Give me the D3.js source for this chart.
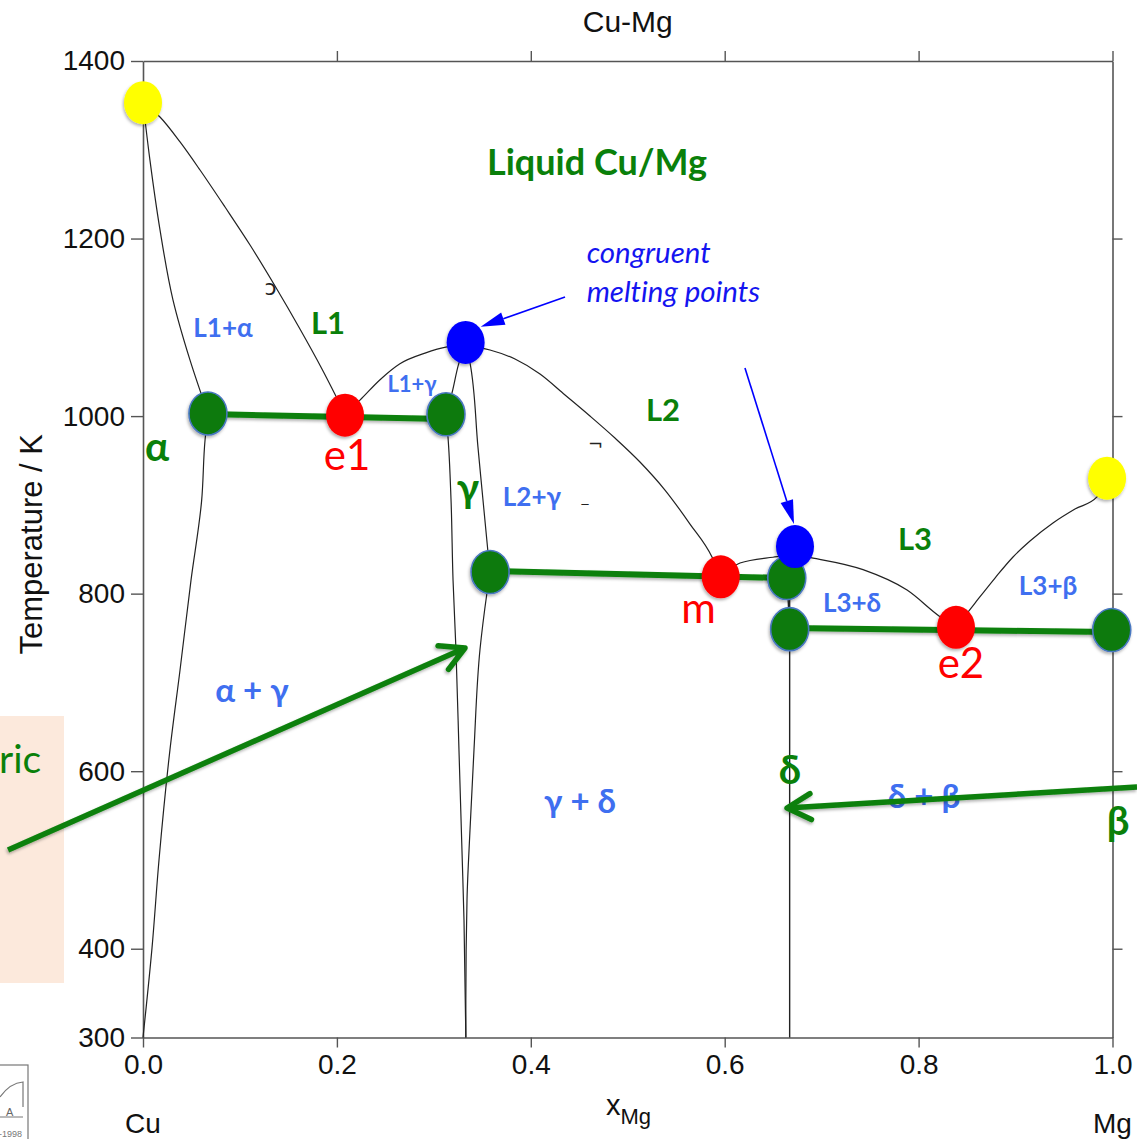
<!DOCTYPE html>
<html>
<head>
<meta charset="utf-8">
<script src="https://cdn.jsdelivr.net/npm/d3@7"></script>
<style>
  body { margin: 0; background: #fff; }
  svg { display: block; }
</style>
</head>
<body>
<svg id="chart" width="1137" height="1139"></svg>
<script>
// ---------- Cu–Mg phase diagram data (x = mole fraction Mg, T in K) ----------
const xTicks = [0, 0.2, 0.4, 0.6, 0.8, 1.0];
const xTickLabels = ["0.0", "0.2", "0.4", "0.6", "0.8", "1.0"];
const yTicks = [300, 400, 600, 800, 1000, 1200, 1400];
const yTickLabels = ["300", "400", "600", "800", "1000", "1200", "1400"];
const topTicks = [0.2, 0.4, 0.6, 0.8, 1.0];
const rightTicks = [400, 600, 800, 1000, 1200];

// phase boundaries (x-monotone liquidus branches)
const liquidusCu = [[0,1353],[0.0175,1336.9],[0.0382,1308.8],[0.0588,1277.2],[0.0846,1235.5],[0.1104,1192.7],[0.1362,1146.5],[0.1619,1098.1],[0.1846,1053.1],[0.2084,1002]];
const liquidusGammaLeft = [[0.2084,1002],[0.2238,1018],[0.2445,1041],[0.265,1059],[0.2909,1071],[0.3136,1078],[0.3321,1080]];
const liquidusGammaRight = [[0.3321,1080],[0.3579,1074.4],[0.3837,1064.3],[0.4095,1047.4],[0.4353,1023.8],[0.461,1000.1],[0.4868,975.3],[0.5126,948.3],[0.5384,916.7],[0.5642,878.4],[0.5869,841.3],[0.5959,819]];
const liquidusDelta = [[0.5959,819],[0.6158,834.5],[0.6498,841],[0.6725,843.5],[0.6911,840],[0.7427,827],[0.7881,804],[0.8221,774],[0.8386,762]];
const liquidusMg = [[0.8386,762],[0.8582,789.4],[0.8788,817.6],[0.8974,841.3],[0.9149,859.3],[0.9386,879.6],[0.9613,895.3],[0.984,908.9],[0.9944,930]];
// phase boundaries (T-monotone solidus / solvus branches)
const solidusAlpha = [[0,1353],[0.0072,1288],[0.0175,1210],[0.0309,1131],[0.0485,1063],[0.067,1003]];
const solvusAlpha = [[0.067,1003],[0.064,973],[0.0605,905],[0.0495,815],[0.0382,714],[0.0278,624],[0.0165,500],[0.0093,401],[0,300]];
const gammaLeftBoundary = [[0.3321,1080],[0.3259,1060],[0.3187,1026],[0.3125,1002],[0.3146,976],[0.3177,906],[0.3198,815],[0.3228,737],[0.3259,624],[0.329,511],[0.3311,432],[0.333,300]];
const gammaRightBoundary = [[0.3321,1080],[0.3373,1060],[0.3455,965],[0.3559,846],[0.3579,824],[0.3548,801],[0.3476,737],[0.3414,624],[0.3373,534],[0.3342,455],[0.333,342],[0.333,300]];
const deltaPhase = [[0.667,819],[0.667,300]];
const deltaSegment = [[0.6643,817.6],[0.667,760]];

// invariant tie lines
const tieLineE1 = [[0.067,1002.3],[0.3125,996.7]];
const tieLineM = [[0.358,825.5],[0.664,817.6]];
const tieLineE2 = [[0.667,761.3],[0.9985,756.8]];

// special points
const meltingPoints = [[0,1353],[0.9944,930]];
const congruentPoints = [[0.3328,1083],[0.6725,853]];
const invariantPoints = [[0.2084,1001],[0.5959,819],[0.8386,762]];
const phaseEndPoints = [[0.067,1003],[0.3125,1002],[0.358,824.4],[0.664,817.6],[0.667,760],[0.9992,759]];

// region and point labels: [text, x, T, kind]
const labels = [
  ["Liquid Cu/Mg", 0.4683, 1271.6, "big"],
  ["L1+α", 0.0825, 1089, "region"],
  ["L1", 0.1908, 1092.5, "liquid"],
  ["L1+γ", 0.2775, 1027.2, "small"],
  ["α", 0.0144, 949.4, "phase"],
  ["e1", 0.2104, 939.3, "point"],
  ["γ", 0.3352, 903, "phase"],
  ["L2+γ", 0.4012, 898.7, "region"],
  ["L2", 0.5364, 994.5, "liquid"],
  ["m", 0.573, 767, "point"],
  ["L3", 0.7963, 849.2, "liquid"],
  ["L3+δ", 0.7313, 779.3, "region"],
  ["L3+β", 0.9335, 798.5, "region"],
  ["e2", 0.8437, 705, "point"],
  ["α + γ", 0.1124, 677.9, "two"],
  ["γ + δ", 0.4508, 552.9, "two"],
  ["δ", 0.6674, 585.6, "phase"],
  ["δ + β", 0.8056, 558.5, "two"],
  ["β", 1.0057, 528, "phase"]
];
const noteLines = ["congruent", "melting points"];
const notePos = [[0.4576, 1172.5], [0.4576, 1128.5]];

// annotation arrows: [from, to]
const blueArrows = [[[0.4353,1134.2],[0.3483,1100.7]], [[0.6209,1054.2],[0.6715,878.4]]];
const greenArrows = [[[-0.1392,511.2],[0.3321,738.8]], [[1.0253,582.2],[0.6643,558.5]]];
const glyphs = [["ɔ", 0.1315, 1136, 22], ["¬", 0.4668, 962, 18], ["_", 0.4558, 903, 14]];

// ---------- drawing ----------
const svg = d3.select("#chart");
const W = 1137, H = 1139;
const x = d3.scaleLinear().domain([0, 1]).range([143, 1112.5]);
const y = d3.scaleLinear().domain([300, 1400]).range([1037.5, 61]);

const LABEL_FONT = "Lato, 'Open Sans', 'Noto Sans', sans-serif";
const AXIS_FONT = "'Liberation Sans', Arial, sans-serif";
const GREEN = "#0a800a", BLUE_TXT = "#3f6ff0", AXIS = "#555";

svg.append("rect").attr("width", W).attr("height", H).attr("fill", "#fff");

const defs = svg.append("defs");
const sh = defs.append("filter").attr("id", "shadow").attr("x", "-50%").attr("y", "-50%").attr("width", "200%").attr("height", "200%");
sh.append("feDropShadow").attr("dx", -1).attr("dy", 2).attr("stdDeviation", 1.6)
  .attr("flood-color", "#000").attr("flood-opacity", 0.3);

// side panel and text fragment
svg.append("rect").attr("x", 0).attr("y", 716).attr("width", 64).attr("height", 267).attr("fill", "#fce9dc");
svg.append("text").attr("x", -1).attr("y", 773).attr("font-family", LABEL_FONT)
  .attr("font-size", 39).attr("fill", GREEN).text("ric");

// axes
function styleAxis(g) {
  g.select(".domain").attr("stroke", AXIS).attr("stroke-width", 1.6);
  g.selectAll(".tick line").attr("stroke", AXIS).attr("stroke-width", 1.4);
  g.selectAll(".tick text").attr("fill", "#111").attr("font-family", AXIS_FONT).attr("font-size", 28);
}
svg.append("g").attr("transform", `translate(0,${y(300)})`)
  .call(d3.axisBottom(x).tickValues(xTicks).tickFormat((d, i) => xTickLabels[i]).tickSize(10).tickPadding(7).tickSizeOuter(0))
  .call(styleAxis);
svg.append("g").attr("transform", `translate(${x(0)},0)`)
  .call(d3.axisLeft(y).tickValues(yTicks).tickFormat((d, i) => yTickLabels[i]).tickSize(12).tickPadding(6).tickSizeOuter(0))
  .call(styleAxis);
svg.append("g").attr("transform", `translate(0,${y(1400)})`)
  .call(d3.axisTop(x).tickValues(topTicks).tickFormat("").tickSize(10).tickSizeOuter(0))
  .call(styleAxis);
svg.append("g").attr("transform", `translate(${x(1)},0)`)
  .call(d3.axisRight(y).tickValues(rightTicks).tickFormat("").tickSize(10).tickSizeOuter(0))
  .call(styleAxis);

// axis titles
svg.append("text").attr("x", (x(0) + x(1)) / 2).attr("y", 32).attr("text-anchor", "middle")
  .attr("font-family", AXIS_FONT).attr("font-size", 30).attr("fill", "#111").text("Cu-Mg");
svg.append("text").attr("transform", `translate(42,${(y(300) + y(1400)) / 2 - 5}) rotate(-90)`)
  .attr("text-anchor", "middle").attr("font-family", AXIS_FONT).attr("font-size", 31).attr("fill", "#111")
  .text("Temperature / K");
const xl = svg.append("text").attr("x", 606).attr("y", 1115).attr("font-family", AXIS_FONT).attr("fill", "#111");
xl.append("tspan").attr("font-size", 29).text("x");
xl.append("tspan").attr("font-size", 22).attr("dy", 9).text("Mg");
svg.append("text").attr("x", x(0)).attr("y", 1133).attr("text-anchor", "middle")
  .attr("font-family", AXIS_FONT).attr("font-size", 28).attr("fill", "#111").text("Cu");
svg.append("text").attr("x", x(1)).attr("y", 1133).attr("text-anchor", "middle")
  .attr("font-family", AXIS_FONT).attr("font-size", 28).attr("fill", "#111").text("Mg");

// phase boundary curves
const lineX = d3.line().x(d => x(d[0])).y(d => y(d[1])).curve(d3.curveMonotoneX);
const lineY = d3.line().x(d => x(d[0])).y(d => y(d[1])).curve(d3.curveMonotoneY);
const straight = d3.line().x(d => x(d[0])).y(d => y(d[1]));
const bg = svg.append("g").attr("fill", "none").attr("stroke", "#222").attr("stroke-width", 1.2);
bg.selectAll("path.lx").data([liquidusCu, liquidusGammaLeft, liquidusGammaRight, liquidusDelta, liquidusMg])
  .join("path").attr("class", "lx").attr("d", lineX);
bg.selectAll("path.ly").data([solidusAlpha, solvusAlpha, gammaLeftBoundary, gammaRightBoundary])
  .join("path").attr("class", "ly").attr("d", lineY);
bg.selectAll("path.ls").data([deltaPhase, deltaSegment, [tieLineM[0], invariantPoints[1]]])
  .join("path").attr("class", "ls").attr("d", straight).attr("stroke-width", 1.4);

// small stray glyphs
svg.append("g").selectAll("text").data(glyphs).join("text")
  .attr("x", d => x(d[1])).attr("y", d => y(d[2])).attr("text-anchor", "middle")
  .attr("font-family", "'DejaVu Sans', sans-serif").attr("font-size", d => d[3]).attr("fill", "#222").text(d => d[0]);

// invariant tie lines
svg.append("g").attr("filter", "url(#shadow)").selectAll("path").data([tieLineE1, tieLineM, tieLineE2]).join("path")
  .attr("d", straight).attr("fill", "none").attr("stroke", GREEN).attr("stroke-width", 6);

// labels
const labelStyle = {
  big:    { size: 36, weight: 700, fill: GREEN },
  region: { size: 26, weight: 700, fill: BLUE_TXT },
  small:  { size: 22, weight: 700, fill: BLUE_TXT },
  liquid: { size: 31, weight: 700, fill: GREEN },
  phase:  { size: 40, weight: 700, fill: GREEN },
  point:  { size: 42, weight: 400, fill: "#ff0000" },
  two:    { size: 33, weight: 700, fill: BLUE_TXT }
};
svg.append("g").selectAll("text").data(labels).join("text")
  .attr("x", d => x(d[1])).attr("y", d => y(d[2])).attr("text-anchor", "middle")
  .attr("font-family", LABEL_FONT)
  .attr("font-size", d => labelStyle[d[3]].size)
  .attr("font-weight", d => labelStyle[d[3]].weight)
  .attr("fill", d => labelStyle[d[3]].fill)
  .text(d => d[0]);

svg.append("g").selectAll("text").data(noteLines).join("text")
  .attr("x", (d, i) => x(notePos[i][0])).attr("y", (d, i) => y(notePos[i][1]))
  .attr("font-family", LABEL_FONT).attr("font-style", "italic").attr("font-size", 29.5)
  .style("font-variant-ligatures", "none")
  .attr("fill", "#1414f0").text(d => d);

// points
const pts = svg.append("g").attr("filter", "url(#shadow)");
function dots(data, fill, stroke) {
  pts.append("g").selectAll("ellipse").data(data).join("ellipse")
    .attr("cx", d => x(d[0])).attr("cy", d => y(d[1])).attr("rx", 19).attr("ry", 21.5)
    .attr("fill", fill).attr("stroke", stroke || "none").attr("stroke-width", stroke ? 1.6 : 0);
}
dots(phaseEndPoints, "#087a08", "#4a78c0");
dots(invariantPoints, "#ff0000");
dots(congruentPoints, "#0000ff");
dots(meltingPoints, "#ffff00");

// green annotation arrows with open heads
const ga = svg.append("g").attr("filter", "url(#shadow)");
greenArrows.forEach(([a, b]) => {
  const x1 = x(a[0]), y1 = y(a[1]), x2 = x(b[0]), y2 = y(b[1]);
  const ang = Math.atan2(y1 - y2, x1 - x2);
  const L = 27, spread = 0.5;
  ga.append("line").attr("x1", x1).attr("y1", y1).attr("x2", x2).attr("y2", y2)
    .attr("stroke", GREEN).attr("stroke-width", 5.5);
  ga.append("path")
    .attr("d", `M${x2 + L * Math.cos(ang + spread)},${y2 + L * Math.sin(ang + spread)}L${x2},${y2}L${x2 + L * Math.cos(ang - spread)},${y2 + L * Math.sin(ang - spread)}`)
    .attr("fill", "none").attr("stroke", GREEN).attr("stroke-width", 5.5).attr("stroke-linecap", "round").attr("stroke-linejoin", "round");
});

// blue annotation arrows with filled heads
const ba = svg.append("g");
blueArrows.forEach(([a, b]) => {
  const x1 = x(a[0]), y1 = y(a[1]), x2 = x(b[0]), y2 = y(b[1]);
  const ang = Math.atan2(y1 - y2, x1 - x2);
  const L = 24, hw = 6.5;
  const bx = x2 + L * Math.cos(ang), by = y2 + L * Math.sin(ang);
  ba.append("line").attr("x1", x1).attr("y1", y1).attr("x2", bx).attr("y2", by)
    .attr("stroke", "#0000ff").attr("stroke-width", 1.6);
  ba.append("path")
    .attr("d", `M${x2},${y2}L${bx - hw * Math.sin(ang)},${by + hw * Math.cos(ang)}L${bx + hw * Math.sin(ang)},${by - hw * Math.cos(ang)}Z`)
    .attr("fill", "#0000ff");
});

// small software badge in the corner
const logo = svg.append("g").attr("stroke", "#777").attr("fill", "none");
logo.append("rect").attr("x", -2).attr("y", 1065).attr("width", 30).attr("height", 80).attr("stroke-width", 1.2);
logo.append("path").attr("d", "M0,1097 Q10,1083 23,1082 L23,1107").attr("stroke-width", 1.2);
logo.append("line").attr("x1", 0).attr("x2", 23).attr("y1", 1117).attr("y2", 1117).attr("stroke-width", 1);
svg.append("text").attr("x", 6).attr("y", 1116).attr("font-family", AXIS_FONT).attr("font-size", 11)
  .attr("fill", "#666").text("A");
svg.append("text").attr("x", -1).attr("y", 1137).attr("font-family", AXIS_FONT).attr("font-size", 9)
  .attr("fill", "#777").text("-1998");
</script>
</body>
</html>
